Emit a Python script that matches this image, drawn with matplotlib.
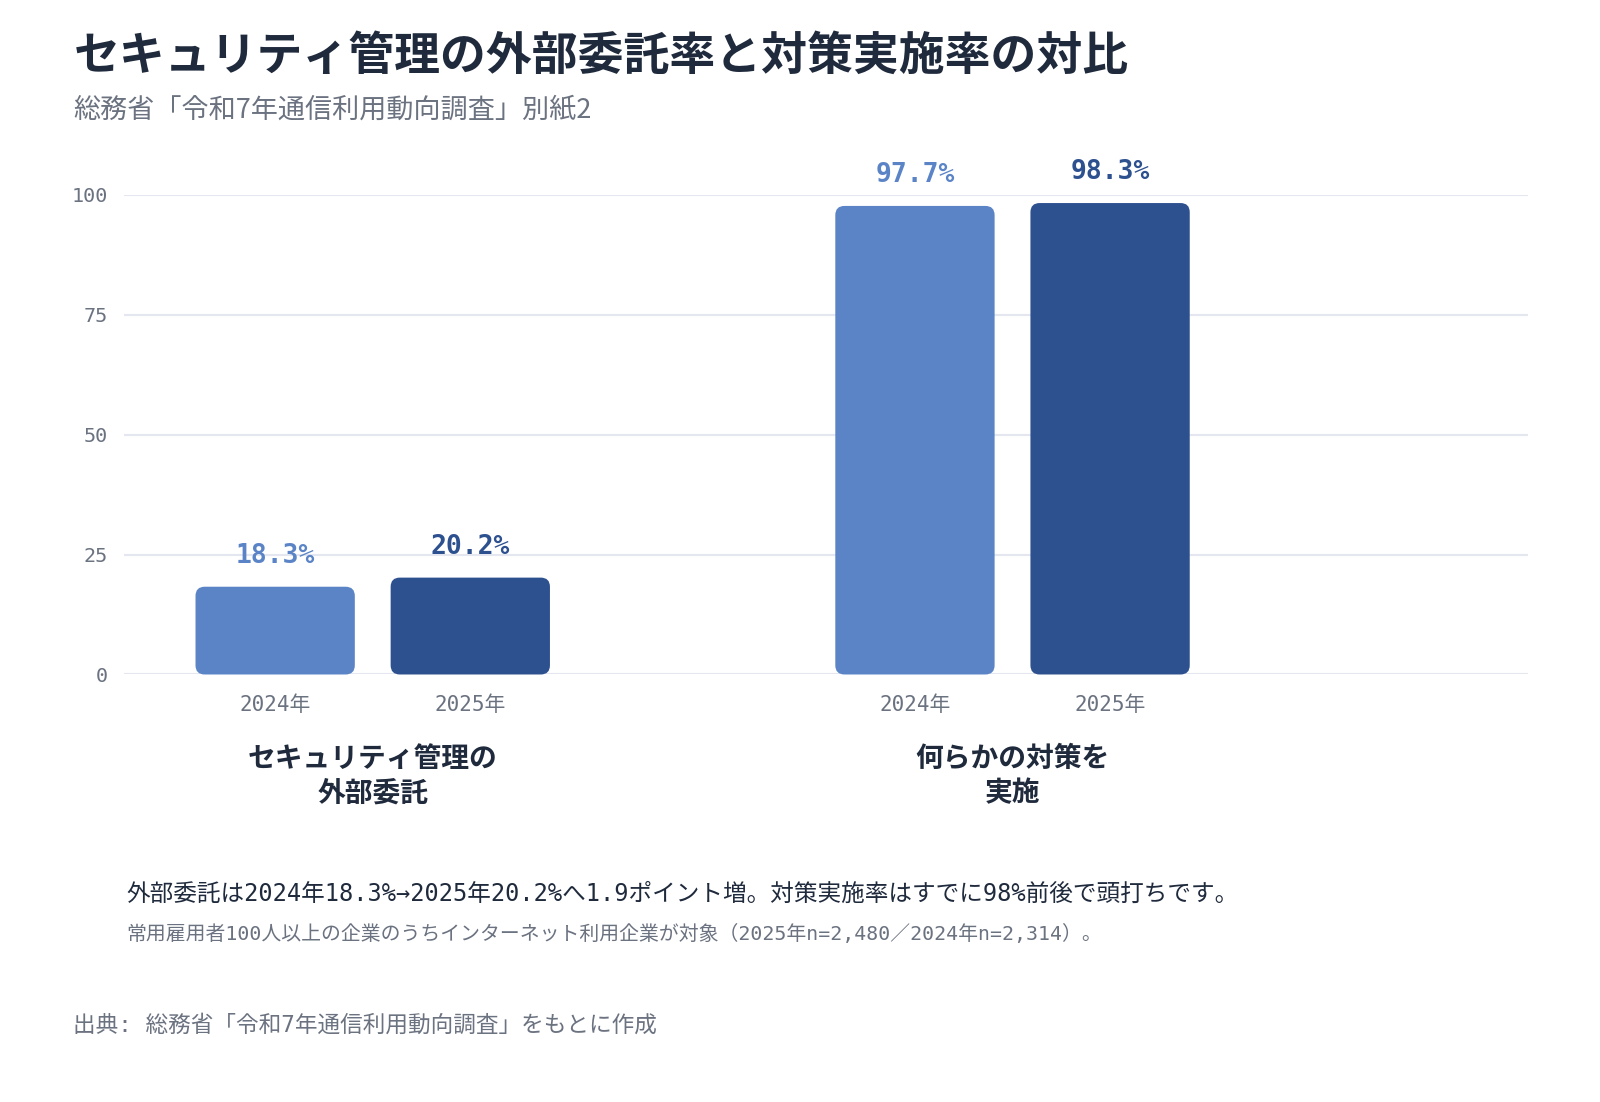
import matplotlib
matplotlib.use("Agg")
import matplotlib.pyplot as plt
from matplotlib.patches import FancyBboxPatch

# data
groups = ["セキュリティ管理の\n外部委託", "何らかの対策を\n実施"]
years = ["2024年", "2025年"]
values_2024 = [18.3, 97.7]
values_2025 = [20.2, 98.3]
yticks = [0, 25, 50, 75, 100]

title = "セキュリティ管理の外部委託率と対策実施率の対比"
subtitle = "総務省「令和7年通信利用動向調査」別紙2"
note = "外部委託は2024年18.3%→2025年20.2%へ1.9ポイント増。対策実施率はすでに98%前後で頭打ちです。"
footnote = "常用雇用者100人以上の企業のうちインターネット利用企業が対象（2025年n=2,480／2024年n=2,314）。"
source = "出典: 総務省「令和7年通信利用動向調査」をもとに作成"

LIGHT = "#5b84c7"
DARK = "#2d508f"
INK = "#1f2a3c"
GRAY = "#6b7280"
GRID = "#e4e7ef"

CJK = ["Noto Sans CJK JP", "DejaVu Sans"]
MONO = ["DejaVu Sans Mono", "Noto Sans CJK JP"]
plt.rcParams["font.family"] = CJK

W, H = 1600, 1102
S = 0.98  # measured coords were taken on a 98% preview


def fx(px):
    return px / S / W


def fy(px):
    return 1 - px / S / H


fig = plt.figure(figsize=(16, 11.02), dpi=100)
ax = fig.add_axes([fx(122), fy(661), fx(1497) - fx(122), fy(191) - fy(661)])

x = list(range(len(groups)))
off = 0.1525
w = 0.249
bars1 = ax.bar([i - off for i in x], values_2024, width=w, color=LIGHT)
bars2 = ax.bar([i + off for i in x], values_2025, width=w, color=DARK)

ax.set_xlim(-0.388, 1.805)
ax.set_ylim(0, 100)

# swap plain bars for rounded ones
rad_x = 9 / 627
aspect = (627 / 4.7)
for bars in (bars1, bars2):
    for b in bars:
        b.set_visible(False)
        x0, y0 = b.get_x(), b.get_y()
        bw, bh = b.get_width(), b.get_height()
        p = FancyBboxPatch((x0 + rad_x, y0 + rad_x * aspect), bw - 2 * rad_x, bh - 2 * rad_x * aspect,
                           boxstyle=f"round,pad={rad_x},rounding_size={rad_x}",
                           mutation_aspect=aspect, fc=b.get_facecolor(), ec="none",
                           zorder=3, clip_on=False)
        ax.add_patch(p)

for bars, vals, col in ((bars1, values_2024, LIGHT), (bars2, values_2025, DARK)):
    for b, v in zip(bars, vals):
        ax.annotate(f"{v:.1f}%", (b.get_x() + b.get_width() / 2, v), xytext=(0, 13),
                    textcoords="offset points", ha="center", va="bottom",
                    fontsize=19, fontweight="bold", color=col, family=MONO)

for i in x:
    for j, yr in enumerate(years):
        ax.annotate(yr, (i + (2 * j - 1) * off, 0), xycoords="data", xytext=(0, -22),
                    textcoords="offset points", ha="center", va="center",
                    fontsize=15, color=GRAY, family=MONO)
    ax.annotate(groups[i], (i, 0), xycoords="data", xytext=(0, -73),
                textcoords="offset points", ha="center", va="center",
                fontsize=20, fontweight="bold", color=INK, linespacing=1.3)

ax.set_yticks(yticks)
ax.set_yticklabels([str(t) for t in yticks], family=MONO, fontsize=14.5, color=GRAY)
ax.tick_params(axis="y", length=0, pad=12)
ax.set_xticks([])
ax.grid(axis="y", color=GRID, linewidth=1.5)
ax.set_axisbelow(True)
for s in ax.spines.values():
    s.set_visible(False)

fig.text(fx(72), fy(56), title, fontsize=33, fontweight="bold", color=INK, va="center")
fig.text(fx(72), fy(108), subtitle, fontsize=19.5, color=GRAY, va="center")
fig.text(fx(124), fy(876), note, fontsize=17, color=INK, va="center", family=MONO)
fig.text(fx(124), fy(915), footnote, fontsize=14.3, color=GRAY, va="center", family=MONO)
fig.text(fx(72), fy(1005), source, fontsize=16.3, color=GRAY, va="center", family=MONO)

fig.savefig("out.png", dpi=100, facecolor="white")
